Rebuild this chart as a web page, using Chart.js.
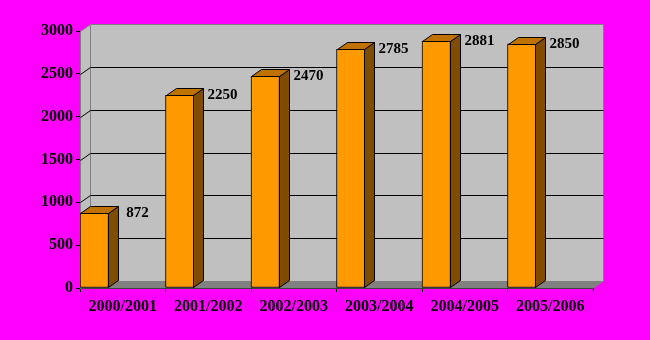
<!DOCTYPE html>
<html>
<head>
<meta charset="utf-8">
<script src="https://cdn.jsdelivr.net/npm/chart.js@4"></script>
<style>
  html, body { margin: 0; padding: 0; background: #ff00ff; }
  #wrap { width: 650px; height: 340px; }
</style>
</head>
<body>
<div id="wrap"><canvas id="chart" width="650" height="340"></canvas></div>
<script>
// Daten
const seasons = ['2000/2001', '2001/2002', '2002/2003', '2003/2004', '2004/2005', '2005/2006'];
const counts = [872, 2250, 2470, 2785, 2881, 2850];
const yTicks = [0, 500, 1000, 1500, 2000, 2500, 3000];

const FONT_FAMILY = '"Liberation Serif", "Times New Roman", serif';
const AXIS_FONT = { family: FONT_FAMILY, size: 16, weight: 'bold' };
const LABEL_FONT = { family: FONT_FAMILY, size: 15, weight: 'bold' };
const DX = 10, DY = 7; // 3D-Tiefe

// Rückwand, Seitenwand, Boden und Gitterlinien
const wallPlugin = {
    id: 'walls',
    beforeDatasetsDraw(chart) {
        const { ctx, chartArea } = chart;
        const { left, right, top, bottom } = chartArea;
        const yScale = chart.scales.y;
        ctx.save();
        ctx.lineWidth = 1;

        // Seitenwand links
        ctx.beginPath();
        ctx.moveTo(left + 0.5, top + 0.5);
        ctx.lineTo(left + DX + 0.5, top - DY + 0.5);
        ctx.lineTo(left + DX + 0.5, bottom - DY + 0.5);
        ctx.lineTo(left + 0.5, bottom + 0.5);
        ctx.closePath();
        ctx.fillStyle = '#c0c0c0';
        ctx.fill();
        ctx.strokeStyle = '#808080';
        ctx.stroke();

        // Rückwand
        ctx.fillStyle = '#c0c0c0';
        ctx.fillRect(left + DX, top - DY, right - left, bottom - top);
        ctx.strokeStyle = '#808080';
        ctx.strokeRect(left + DX + 0.5, top - DY + 0.5, right - left, bottom - top);

        // Gitterlinien
        ctx.strokeStyle = '#000';
        yTicks.forEach(v => {
            if (v === 0 || v === yTicks[yTicks.length - 1]) return;
            const y = Math.round(yScale.getPixelForValue(v)) + 0.5;
            ctx.beginPath();
            ctx.moveTo(left + 0.5, y);
            ctx.lineTo(left + DX + 0.5, y - DY);
            ctx.lineTo(right + DX + 0.5, y - DY);
            ctx.stroke();
        });

        // Boden
        ctx.beginPath();
        ctx.moveTo(left, bottom + 0.5);
        ctx.lineTo(left + DX, bottom - DY + 0.5);
        ctx.lineTo(right + DX + 0.5, bottom - DY + 0.5);
        ctx.lineTo(right + 0.5, bottom + 0.5);
        ctx.closePath();
        ctx.fillStyle = '#808080';
        ctx.fill();
        ctx.restore();
    }
};

// Seiten- und Deckflächen der Säulen plus Werte
const barPlugin = {
    id: 'bars3d',
    afterDatasetsDraw(chart) {
        const { ctx } = chart;
        const meta = chart.getDatasetMeta(0);
        ctx.save();
        ctx.lineWidth = 1;
        ctx.strokeStyle = '#000';
        meta.data.forEach((bar, i) => {
            const l = Math.round(bar.x - bar.width / 2) + 0.5;
            const r = Math.round(bar.x + bar.width / 2) - 0.5;
            const t = Math.round(bar.y) + 0.5;
            const b = Math.round(bar.base) - 0.5;

            // Seite
            ctx.beginPath();
            ctx.moveTo(r, t);
            ctx.lineTo(r + DX, t - DY);
            ctx.lineTo(r + DX, b - DY);
            ctx.lineTo(r, b);
            ctx.closePath();
            ctx.fillStyle = '#804c00';
            ctx.fill();
            ctx.stroke();

            // Deckel
            ctx.beginPath();
            ctx.moveTo(l, t);
            ctx.lineTo(l + DX, t - DY);
            ctx.lineTo(r + DX, t - DY);
            ctx.lineTo(r, t);
            ctx.closePath();
            ctx.fillStyle = '#c07200';
            ctx.fill();
            ctx.stroke();

            // Wert
            ctx.fillStyle = '#000';
            ctx.font = `${LABEL_FONT.weight} ${LABEL_FONT.size}px ${LABEL_FONT.family}`;
            ctx.textAlign = 'center';
            ctx.textBaseline = 'middle';
            ctx.fillText(String(counts[i]), r + 29, Math.round(bar.y));
        });
        ctx.restore();
    }
};

const data = {
    labels: seasons,
    datasets: [
        {
            data: counts,
            backgroundColor: '#ff9900',
            borderColor: '#000',
            borderWidth: 1,
            borderSkipped: false
        },
        // leere Platzhalter, damit die Säule links in der Kategorie steht
        { data: seasons.map(() => null) },
        { data: seasons.map(() => null) }
    ]
};

const config = {
    type: 'bar',
    data: data,
    options: {
        responsive: false,
        devicePixelRatio: 1,
        animation: false,
        layout: { padding: { left: 0, right: 57, top: 31, bottom: 0 } },
        datasets: { bar: { categoryPercentage: 1, barPercentage: 1 } },
        plugins: { legend: { display: false }, tooltip: { enabled: false } },
        scales: {
            x: {
                afterFit(scale) { scale.height = 52; },
                grid: { offset: true, drawOnChartArea: false, color: '#000', tickLength: 4 },
                border: { color: '#000', width: 1 },
                ticks: { color: '#000', font: AXIS_FONT, padding: 5, maxRotation: 0, autoSkip: false }
            },
            y: {
                min: 0,
                max: 3000,
                afterFit(scale) { scale.width = 80; },
                grid: { drawOnChartArea: false, color: '#000', tickLength: 4 },
                border: { color: '#000', width: 1 },
                ticks: {
                    color: '#000',
                    font: AXIS_FONT,
                    padding: 3,
                    stepSize: 500,
                    callback: value => String(value)
                }
            }
        }
    },
    plugins: [wallPlugin, barPlugin]
};

window.neoChart = new Chart(document.getElementById('chart'), config);
</script>
</body>
</html>
